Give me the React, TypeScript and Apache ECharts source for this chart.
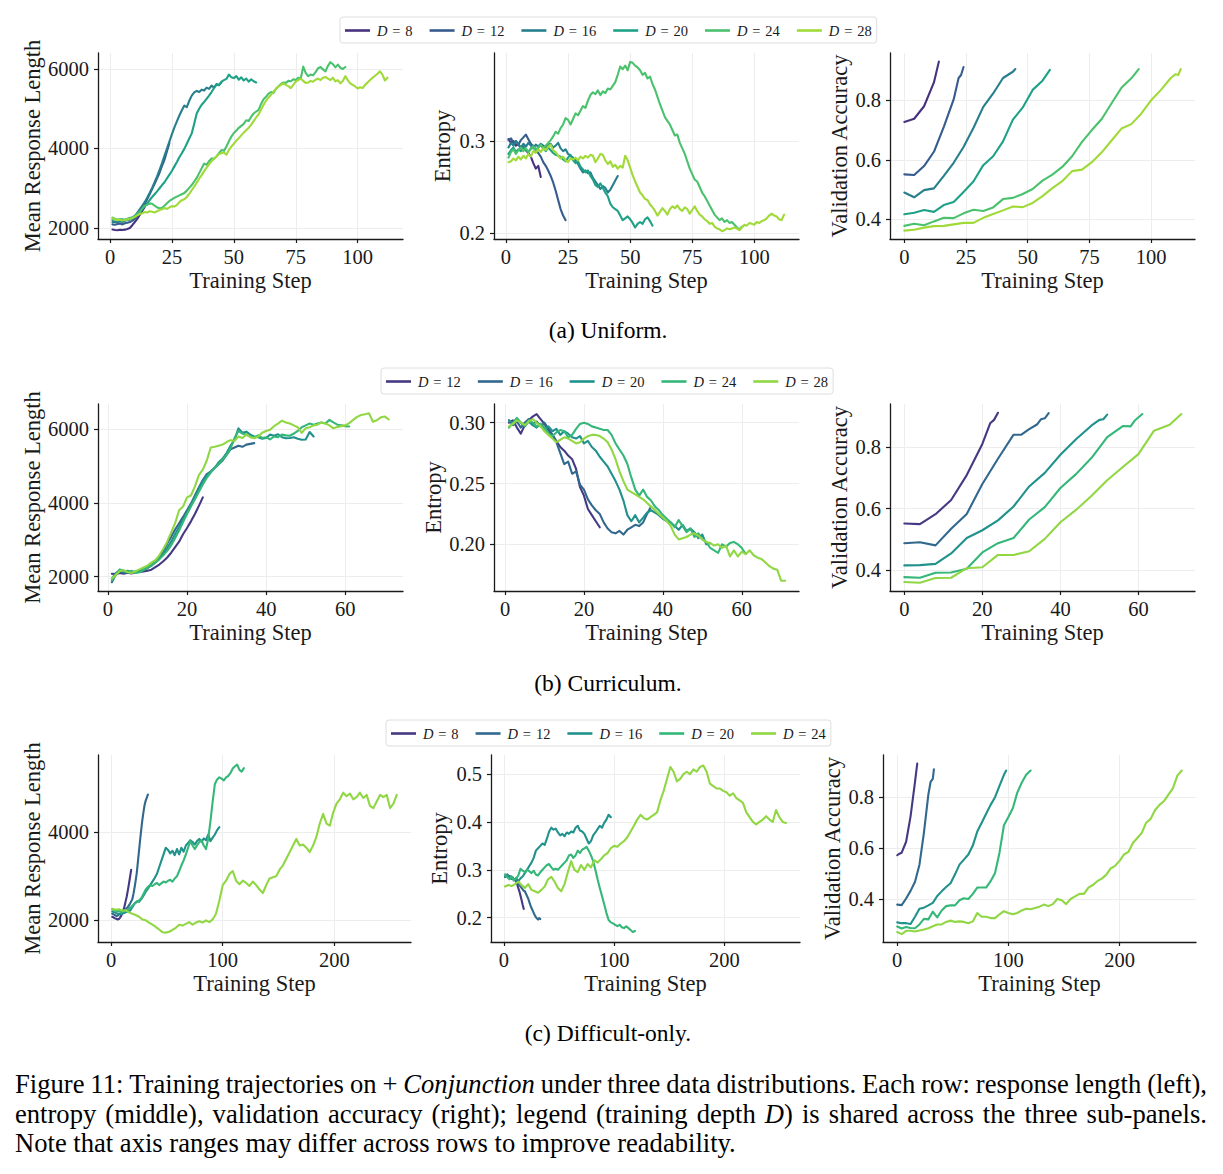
import { useEffect, useRef } from 'react';
import * as echarts from 'echarts';

const SERIF = 'Liberation Serif, Times New Roman, serif';
const INK = '#1a1a1a';

// viridis samples (6 and 5 levels)
const PAL6 = ['#46327e', '#365c8d', '#277f8e', '#1fa187', '#4ac16d', '#a0da39'];
const PAL5 = ['#443983', '#31688e', '#21918c', '#35b779', '#90d743'];

const DEPTHS_A = [8, 12, 16, 20, 24, 28];
const DEPTHS_B = [12, 16, 20, 24, 28];
const DEPTHS_C = [8, 12, 16, 20, 24];

// ---------- (a) Uniform ----------
// mean response length, one value per step starting at step 1
const uniLenD8 = [1960, 1950, 1945, 1955, 1950, 1958, 1975, 2000, 2070, 2150, 2230, 2330, 2430, 2530];
const uniLenD12 = [2090, 2080, 2100, 2110, 2090, 2120, 2130, 2150, 2180, 2230, 2300, 2390, 2480, 2600, 2720, 2850, 2980, 3110, 3250, 3390, 3560, 3720, 3930, 4140];
const uniLenD16 = [2150, 2160, 2140, 2170, 2150, 2180, 2200, 2210, 2240, 2300, 2380, 2470, 2560, 2650, 2760, 2880, 3010, 3150, 3300, 3460, 3630, 3820, 4000, 4180, 4360, 4530, 4680, 4830, 4960, 5080, 5040, 5200, 5330, 5410, 5450, 5420, 5480, 5460, 5530, 5500, 5580, 5530, 5620, 5600, 5660];
const uniLenD20 = [2200, 2230, 2190, 2210, 2220, 2200, 2230, 2250, 2270, 2300, 2360, 2420, 2480, 2550, 2620, 2700, 2780, 2850, 2920, 3000, 3080, 3150, 3250, 3340, 3440, 3550, 3660, 3780, 3880, 3990, 4120, 4250, 4380, 4620, 4880, 5000, 5100, 5170, 5250, 5330, 5420, 5520, 5610, 5590, 5680, 5720, 5750, 5860, 5790, 5770, 5820, 5730, 5790, 5710, 5760, 5680, 5740, 5690, 5660];
const uniLenD24 = [2260, 2230, 2210, 2220, 2190, 2210, 2200, 2230, 2260, 2290, 2340, 2400, 2480, 2560, 2580, 2620, 2610, 2560, 2520, 2490, 2510, 2560, 2620, 2680, 2720, 2760, 2790, 2820, 2850, 2880, 2940, 3010, 3080, 3170, 3260, 3380, 3500, 3620, 3590, 3680, 3750, 3740, 3800, 3880, 3960, 3940, 4050, 4180, 4300, 4390, 4450, 4520, 4570, 4620, 4710, 4690, 4800, 4880, 4930, 4970, 5120, 5240, 5300, 5380, 5420, 5400, 5500, 5560, 5620, 5660, 5650, 5700, 5690, 5740, 5720, 5780, 5750, 6060, 5900, 5820, 5860, 5840, 5920, 6020, 6050, 5990, 5940, 6080, 6170, 6120, 6040, 6110, 6030, 6000, 6050];
const uniLenD28 = [2240, 2220, 2200, 2210, 2190, 2200, 2220, 2230, 2250, 2280, 2320, 2350, 2370, 2400, 2390, 2420, 2410, 2390, 2420, 2450, 2470, 2500, 2480, 2520, 2550, 2540, 2580, 2650, 2700, 2720, 2780, 2860, 2950, 3040, 3140, 3240, 3330, 3430, 3520, 3600, 3680, 3740, 3800, 3860, 3880, 3900, 3840, 3960, 4050, 4120, 4200, 4260, 4330, 4400, 4460, 4520, 4600, 4690, 4780, 4860, 4980, 5100, 5200, 5280, 5350, 5430, 5500, 5560, 5600, 5640, 5600, 5570, 5520, 5600, 5680, 5720, 5760, 5700, 5650, 5660, 5700, 5680, 5730, 5760, 5720, 5780, 5800, 5760, 5720, 5780, 5690, 5720, 5640, 5700, 5820, 5720, 5640, 5600, 5560, 5510, 5540, 5520, 5600, 5660, 5720, 5780, 5830, 5880, 5940, 5860, 5710, 5780];

// entropy, one value per step starting at step 1
const uniEntD8 = [0.302, 0.298, 0.300, 0.295, 0.297, 0.292, 0.294, 0.290, 0.287, 0.283, 0.276, 0.270, 0.273, 0.261];
const uniEntD12 = [0.301, 0.303, 0.298, 0.300, 0.296, 0.301, 0.304, 0.307, 0.302, 0.297, 0.294, 0.290, 0.287, 0.283, 0.277, 0.273, 0.268, 0.262, 0.255, 0.246, 0.236, 0.226, 0.219, 0.214];
const uniEntD16 = [0.293, 0.298, 0.295, 0.300, 0.296, 0.293, 0.297, 0.294, 0.298, 0.295, 0.292, 0.296, 0.294, 0.297, 0.295, 0.293, 0.296, 0.297, 0.293, 0.295, 0.298, 0.292, 0.289, 0.291, 0.286, 0.284, 0.282, 0.279, 0.275, 0.270, 0.266, 0.268, 0.265, 0.266, 0.260, 0.256, 0.252, 0.248, 0.251, 0.249, 0.244, 0.247, 0.252, 0.257, 0.262];
const uniEntD20 = [0.286, 0.290, 0.293, 0.288, 0.291, 0.289, 0.293, 0.291, 0.288, 0.292, 0.295, 0.290, 0.293, 0.296, 0.292, 0.289, 0.293, 0.290, 0.287, 0.285, 0.284, 0.283, 0.280, 0.278, 0.282, 0.285, 0.279, 0.276, 0.278, 0.272, 0.269, 0.266, 0.268, 0.262, 0.258, 0.252, 0.250, 0.254, 0.249, 0.244, 0.240, 0.232, 0.228, 0.226, 0.224, 0.219, 0.214, 0.216, 0.218, 0.215, 0.211, 0.206, 0.210, 0.212, 0.210, 0.215, 0.217, 0.213, 0.208];
const uniEntD24 = [0.282, 0.288, 0.291, 0.286, 0.290, 0.293, 0.289, 0.292, 0.288, 0.291, 0.294, 0.290, 0.293, 0.296, 0.292, 0.295, 0.298, 0.301, 0.305, 0.310, 0.308, 0.314, 0.318, 0.325, 0.323, 0.318, 0.324, 0.330, 0.328, 0.333, 0.338, 0.336, 0.344, 0.350, 0.353, 0.351, 0.355, 0.350, 0.354, 0.352, 0.357, 0.356, 0.360, 0.364, 0.372, 0.381, 0.378, 0.382, 0.377, 0.386, 0.385, 0.382, 0.380, 0.377, 0.372, 0.374, 0.368, 0.370, 0.362, 0.356, 0.348, 0.340, 0.333, 0.326, 0.322, 0.318, 0.312, 0.306, 0.307, 0.298, 0.292, 0.286, 0.278, 0.270, 0.264, 0.258, 0.256, 0.250, 0.244, 0.240, 0.235, 0.230, 0.225, 0.220, 0.217, 0.214, 0.216, 0.212, 0.214, 0.211, 0.212, 0.209, 0.206, 0.204, 0.207];
const uniEntD28 = [0.277, 0.278, 0.281, 0.279, 0.283, 0.280, 0.284, 0.281, 0.286, 0.283, 0.289, 0.287, 0.291, 0.288, 0.292, 0.290, 0.294, 0.296, 0.290, 0.288, 0.284, 0.281, 0.283, 0.279, 0.277, 0.281, 0.280, 0.282, 0.279, 0.283, 0.281, 0.284, 0.282, 0.285, 0.284, 0.277, 0.281, 0.286, 0.285, 0.279, 0.275, 0.278, 0.272, 0.274, 0.270, 0.273, 0.271, 0.284, 0.279, 0.271, 0.263, 0.256, 0.250, 0.244, 0.241, 0.237, 0.236, 0.231, 0.228, 0.224, 0.219, 0.223, 0.227, 0.224, 0.220, 0.226, 0.229, 0.227, 0.230, 0.226, 0.224, 0.228, 0.226, 0.221, 0.225, 0.229, 0.224, 0.220, 0.218, 0.215, 0.213, 0.210, 0.211, 0.207, 0.205, 0.204, 0.202, 0.203, 0.205, 0.204, 0.205, 0.206, 0.205, 0.203, 0.206, 0.209, 0.208, 0.211, 0.210, 0.209, 0.212, 0.211, 0.213, 0.214, 0.216, 0.219, 0.221, 0.219, 0.218, 0.215, 0.214, 0.220];

// validation accuracy, [step, accuracy]
const uniAccD8 = [[0, 0.727], [4, 0.738], [8, 0.780], [12, 0.860], [14, 0.930]];
const uniAccD12 = [[0, 0.551], [4, 0.549], [8, 0.579], [12, 0.627], [16, 0.711], [20, 0.803], [22, 0.875], [23, 0.885], [24, 0.912]];
const uniAccD16 = [[0, 0.490], [4, 0.474], [8, 0.498], [12, 0.504], [16, 0.546], [20, 0.590], [24, 0.643], [28, 0.707], [32, 0.778], [36, 0.823], [40, 0.875], [44, 0.896], [45, 0.905]];
const uniAccD20 = [[0, 0.417], [4, 0.422], [8, 0.431], [12, 0.425], [16, 0.448], [20, 0.458], [24, 0.492], [28, 0.527], [32, 0.582], [36, 0.612], [40, 0.662], [44, 0.735], [48, 0.776], [52, 0.835], [56, 0.866], [59, 0.902]];
const uniAccD24 = [[0, 0.378], [4, 0.385], [8, 0.380], [12, 0.393], [16, 0.405], [20, 0.404], [24, 0.420], [28, 0.432], [32, 0.428], [36, 0.440], [40, 0.468], [44, 0.472], [48, 0.485], [52, 0.502], [56, 0.530], [60, 0.550], [64, 0.576], [68, 0.612], [72, 0.660], [76, 0.700], [80, 0.737], [84, 0.790], [88, 0.842], [92, 0.874], [95, 0.905]];
const uniAccD28 = [[0, 0.362], [4, 0.365], [8, 0.372], [12, 0.377], [16, 0.378], [20, 0.383], [24, 0.388], [28, 0.388], [32, 0.405], [36, 0.418], [40, 0.430], [44, 0.443], [48, 0.441], [52, 0.455], [56, 0.478], [60, 0.505], [64, 0.528], [68, 0.562], [72, 0.567], [76, 0.592], [80, 0.625], [84, 0.665], [88, 0.705], [92, 0.720], [96, 0.755], [100, 0.800], [104, 0.835], [108, 0.875], [110, 0.888], [111, 0.885], [112, 0.905]];

// ---------- (b) Curriculum ----------
const curLenD12 = [2080, 2070, 2100, 2080, 2110, 2090, 2120, 2130, 2140, 2160, 2190, 2260, 2330, 2420, 2520, 2650, 2800, 2950, 3150, 3320, 3500, 3700, 3920, 4150];
const curLenD16 = [1850, 2060, 2150, 2100, 2120, 2110, 2130, 2140, 2180, 2230, 2300, 2400, 2520, 2700, 2900, 3080, 3280, 3450, 3620, 3800, 3980, 4200, 4420, 4620, 4780, 4850, 4950, 5050, 5150, 5300, 5450, 5500, 5550, 5520, 5580, 5600, 5620];
const curLenD20 = [1950, 2100, 2180, 2140, 2160, 2130, 2150, 2160, 2200, 2250, 2320, 2400, 2500, 2620, 2780, 2950, 3150, 3350, 3550, 3750, 3950, 4150, 4380, 4600, 4750, 4850, 4950, 5100, 5200, 5350, 5550, 5700, 6020, 5900, 5930, 5850, 5800, 5780, 5740, 5760, 5850, 5820, 5860, 5780, 5750, 5760, 5780, 5740, 5710, 5720, 5920, 5800];
const curLenD24 = [1900, 2050, 2200, 2150, 2130, 2160, 2100, 2120, 2180, 2240, 2300, 2380, 2470, 2580, 2700, 2850, 3050, 3250, 3480, 3700, 3900, 4100, 4300, 4500, 4680, 4820, 4950, 5050, 5180, 5300, 5480, 5750, 5950, 5880, 5850, 5800, 5780, 5830, 5760, 5780, 5720, 5800, 5780, 5850, 5830, 5820, 5880, 5950, 6050, 6100, 6150, 6120, 6150, 6180, 6150, 6250, 6180, 6120, 6100, 6080, 6070];
const curLenD28 = [1950, 2050, 2150, 2180, 2120, 2100, 2150, 2200, 2250, 2300, 2380, 2450, 2580, 2750, 2950, 3200, 3450, 3800, 3900, 4150, 4200, 4450, 4750, 4900, 5150, 5500, 5520, 5550, 5580, 5650, 5700, 5680, 5800, 5760, 5850, 5780, 5750, 5800, 5900, 5950, 5980, 6080, 6150, 6230, 6180, 6150, 6100, 6050, 5900, 6020, 6050, 6100, 6120, 6180, 6150, 6100, 6020, 6060, 6080, 6100, 6160, 6250, 6330, 6380, 6400, 6430, 6200, 6240, 6320, 6340, 6260];

const curEntD12 = [0.300, 0.302, 0.296, 0.291, 0.298, 0.302, 0.305, 0.307, 0.303, 0.299, 0.294, 0.290, 0.285, 0.280, 0.277, 0.273, 0.270, 0.262, 0.247, 0.240, 0.229, 0.224, 0.219, 0.214];
const curEntD16 = [0.302, 0.298, 0.301, 0.296, 0.300, 0.303, 0.299, 0.301, 0.297, 0.300, 0.295, 0.290, 0.284, 0.275, 0.266, 0.268, 0.258, 0.260, 0.249, 0.245, 0.237, 0.232, 0.228, 0.225, 0.218, 0.213, 0.210, 0.209, 0.211, 0.208, 0.212, 0.214, 0.216, 0.215, 0.218, 0.225, 0.231];
const curEntD20 = [0.302, 0.299, 0.303, 0.300, 0.297, 0.301, 0.298, 0.296, 0.299, 0.295, 0.297, 0.293, 0.295, 0.290, 0.293, 0.291, 0.288, 0.287, 0.289, 0.283, 0.285, 0.280, 0.277, 0.272, 0.268, 0.264, 0.258, 0.252, 0.245, 0.236, 0.224, 0.219, 0.224, 0.218, 0.222, 0.226, 0.228, 0.226, 0.224, 0.221, 0.219, 0.218, 0.215, 0.212, 0.216, 0.211, 0.213, 0.210, 0.205, 0.208, 0.200, 0.201];
const curEntD24 = [0.296, 0.300, 0.304, 0.300, 0.298, 0.302, 0.300, 0.297, 0.299, 0.296, 0.291, 0.289, 0.292, 0.294, 0.293, 0.288, 0.290, 0.295, 0.299, 0.300, 0.299, 0.297, 0.296, 0.295, 0.294, 0.294, 0.290, 0.283, 0.278, 0.273, 0.266, 0.255, 0.245, 0.240, 0.245, 0.239, 0.236, 0.231, 0.228, 0.224, 0.221, 0.218, 0.214, 0.220, 0.215, 0.210, 0.213, 0.206, 0.209, 0.204, 0.202, 0.197, 0.195, 0.193, 0.200, 0.198, 0.201, 0.202, 0.200, 0.197, 0.192];
const curEntD28 = [0.297, 0.299, 0.302, 0.300, 0.298, 0.301, 0.303, 0.300, 0.297, 0.293, 0.290, 0.287, 0.284, 0.286, 0.288, 0.287, 0.285, 0.283, 0.284, 0.287, 0.289, 0.290, 0.290, 0.289, 0.287, 0.284, 0.278, 0.270, 0.260, 0.252, 0.245, 0.243, 0.241, 0.239, 0.237, 0.234, 0.231, 0.228, 0.225, 0.222, 0.219, 0.215, 0.208, 0.204, 0.205, 0.206, 0.208, 0.209, 0.207, 0.204, 0.202, 0.201, 0.199, 0.200, 0.197, 0.199, 0.190, 0.195, 0.190, 0.194, 0.192, 0.195, 0.191, 0.189, 0.188, 0.185, 0.182, 0.180, 0.179, 0.170, 0.170];

const curAccD12 = [[0, 0.552], [4, 0.550], [8, 0.582], [12, 0.628], [16, 0.709], [20, 0.810], [22, 0.877], [23, 0.888], [24, 0.911]];
const curAccD16 = [[0, 0.488], [4, 0.491], [8, 0.481], [12, 0.535], [16, 0.583], [20, 0.680], [24, 0.762], [28, 0.840], [30, 0.840], [32, 0.858], [34, 0.873], [35, 0.890], [36, 0.893], [37, 0.910]];
const curAccD20 = [[0, 0.416], [4, 0.417], [8, 0.421], [12, 0.455], [16, 0.505], [20, 0.530], [24, 0.562], [28, 0.607], [32, 0.672], [36, 0.716], [40, 0.775], [44, 0.825], [48, 0.870], [50, 0.888], [51, 0.890], [52, 0.905]];
const curAccD24 = [[0, 0.378], [4, 0.376], [8, 0.392], [12, 0.393], [16, 0.405], [20, 0.458], [24, 0.488], [28, 0.505], [32, 0.565], [36, 0.605], [40, 0.667], [44, 0.712], [48, 0.765], [52, 0.832], [56, 0.868], [58, 0.867], [59, 0.885], [61, 0.907]];
const curAccD28 = [[0, 0.362], [4, 0.360], [8, 0.375], [12, 0.376], [16, 0.407], [20, 0.410], [24, 0.450], [28, 0.450], [32, 0.462], [36, 0.502], [40, 0.556], [44, 0.596], [48, 0.642], [52, 0.692], [56, 0.735], [60, 0.777], [64, 0.853], [68, 0.872], [71, 0.907]];

// ---------- (c) Difficult-only ----------
// D=8 and D=12 logged every step; D=16/D=20 every 2nd step; D=24 every 3rd step
const difLenD8 = [2080, 2070, 2050, 2040, 2030, 2020, 2030, 2060, 2100, 2160, 2230, 2320, 2430, 2540, 2680, 2830, 2990, 3150];
const difLenD12 = [2150, 2140, 2120, 2110, 2100, 2110, 2130, 2150, 2170, 2190, 2210, 2230, 2250, 2280, 2300, 2340, 2380, 2430, 2480, 2600, 2740, 2900, 3080, 3330, 3580, 3830, 4060, 4280, 4460, 4620, 4720, 4790, 4860];
const difLenD16 = [2200, 2180, 2160, 2150, 2140, 2160, 2180, 2200, 2220, 2300, 2380, 2430, 2420, 2480, 2560, 2650, 2720, 2800, 2880, 2960, 3050, 3200, 3350, 3500, 3650, 3600, 3520, 3580, 3480, 3620, 3500, 3650, 3560, 3700, 3760, 3820, 3780, 3720, 3800, 3850, 3780, 3860, 3820, 3950, 3800, 3880, 3950, 4050, 4120];
const difLenD20 = [2250, 2230, 2200, 2220, 2180, 2200, 2220, 2250, 2280, 2330, 2380, 2420, 2450, 2500, 2600, 2700, 2760, 2800, 2780, 2820, 2850, 2800, 2840, 2880, 2860, 2900, 2920, 2880, 2950, 3000, 3120, 3250, 3360, 3500, 3650, 3800, 3700, 3620, 3700, 3780, 3820, 3700, 3620, 3850, 4250, 4700, 5100, 5200, 5250, 5220, 5180, 5250, 5280, 5350, 5450, 5500, 5540, 5420, 5380, 5460];
const difLenD24 = [2260, 2240, 2250, 2220, 2230, 2180, 2150, 2120, 2080, 2020, 2000, 1950, 1900, 1850, 1790, 1730, 1720, 1740, 1780, 1830, 1900, 1880, 1920, 1960, 1900, 1950, 1980, 1950, 2000, 1960, 2020, 2150, 2450, 2800, 2900, 3050, 3120, 2900, 2820, 2900, 2850, 2780, 2880, 2800, 2700, 2620, 2800, 2950, 2980, 3000, 3150, 3250, 3400, 3550, 3700, 3850, 3700, 3720, 3650, 3550, 3700, 3900, 4200, 4420, 4200, 4150, 4450, 4650, 4750, 4900, 4820, 4880, 4750, 4800, 4900, 4780, 4850, 4600, 4550, 4700, 4850, 4800, 4850, 4550, 4650, 4850];

const difEntD8 = [0.285, 0.288, 0.290, 0.287, 0.284, 0.286, 0.283, 0.281, 0.280, 0.278, 0.276, 0.270, 0.262, 0.255, 0.246, 0.237, 0.227, 0.218];
const difEntD12 = [0.290, 0.288, 0.286, 0.284, 0.287, 0.283, 0.281, 0.284, 0.279, 0.280, 0.277, 0.274, 0.271, 0.268, 0.265, 0.262, 0.259, 0.256, 0.255, 0.250, 0.245, 0.240, 0.233, 0.226, 0.220, 0.215, 0.210, 0.205, 0.201, 0.198, 0.196, 0.199, 0.197];
const difEntD16 = [0.285, 0.290, 0.282, 0.285, 0.278, 0.283, 0.276, 0.282, 0.286, 0.293, 0.300, 0.308, 0.315, 0.325, 0.340, 0.345, 0.350, 0.355, 0.352, 0.365, 0.380, 0.388, 0.384, 0.386, 0.378, 0.372, 0.375, 0.370, 0.378, 0.375, 0.380, 0.378, 0.388, 0.392, 0.382, 0.380, 0.375, 0.365, 0.355, 0.360, 0.372, 0.378, 0.385, 0.392, 0.388, 0.398, 0.405, 0.415, 0.410];
const difEntD20 = [0.290, 0.285, 0.280, 0.286, 0.278, 0.282, 0.288, 0.302, 0.298, 0.295, 0.300, 0.297, 0.293, 0.298, 0.290, 0.288, 0.295, 0.300, 0.305, 0.310, 0.312, 0.305, 0.300, 0.302, 0.300, 0.305, 0.310, 0.315, 0.320, 0.330, 0.332, 0.325, 0.330, 0.340, 0.335, 0.342, 0.345, 0.348, 0.340, 0.330, 0.318, 0.300, 0.280, 0.262, 0.245, 0.228, 0.210, 0.195, 0.190, 0.188, 0.185, 0.182, 0.185, 0.180, 0.178, 0.182, 0.178, 0.174, 0.170, 0.172];
const difEntD24 = [0.265, 0.268, 0.266, 0.270, 0.275, 0.268, 0.262, 0.270, 0.258, 0.255, 0.252, 0.258, 0.265, 0.280, 0.285, 0.275, 0.262, 0.255, 0.270, 0.295, 0.318, 0.300, 0.295, 0.310, 0.300, 0.312, 0.305, 0.320, 0.315, 0.322, 0.330, 0.335, 0.345, 0.350, 0.348, 0.355, 0.360, 0.368, 0.380, 0.392, 0.405, 0.415, 0.408, 0.405, 0.410, 0.415, 0.420, 0.445, 0.465, 0.490, 0.515, 0.505, 0.485, 0.490, 0.500, 0.505, 0.500, 0.510, 0.505, 0.515, 0.518, 0.505, 0.480, 0.475, 0.470, 0.470, 0.465, 0.462, 0.455, 0.460, 0.450, 0.445, 0.440, 0.420, 0.410, 0.400, 0.395, 0.400, 0.405, 0.412, 0.405, 0.400, 0.425, 0.410, 0.400, 0.398];

const difAccD8 = [[0, 0.572], [2, 0.578], [4, 0.582], [8, 0.625], [12, 0.725], [16, 0.860], [18, 0.932]];
const difAccD12 = [[0, 0.378], [4, 0.376], [8, 0.402], [12, 0.432], [16, 0.468], [20, 0.535], [24, 0.660], [28, 0.810], [30, 0.860], [32, 0.872], [33, 0.910]];
const difAccD16 = [[0, 0.308], [4, 0.305], [8, 0.305], [12, 0.302], [16, 0.330], [20, 0.362], [24, 0.366], [28, 0.375], [32, 0.385], [36, 0.412], [40, 0.430], [44, 0.447], [48, 0.462], [52, 0.497], [56, 0.535], [60, 0.555], [64, 0.575], [68, 0.610], [72, 0.665], [76, 0.700], [80, 0.735], [84, 0.770], [88, 0.800], [92, 0.845], [96, 0.888], [98, 0.905]];
const difAccD20 = [[0, 0.292], [4, 0.284], [8, 0.290], [12, 0.286], [16, 0.285], [20, 0.300], [24, 0.322], [28, 0.320], [32, 0.350], [36, 0.328], [40, 0.355], [44, 0.372], [48, 0.375], [52, 0.375], [56, 0.395], [60, 0.403], [64, 0.400], [68, 0.420], [72, 0.445], [76, 0.445], [80, 0.445], [84, 0.470], [88, 0.502], [92, 0.582], [96, 0.690], [100, 0.722], [104, 0.757], [108, 0.818], [112, 0.857], [116, 0.888], [120, 0.905]];
const difAccD24 = [[0, 0.270], [4, 0.262], [8, 0.275], [12, 0.275], [16, 0.272], [20, 0.276], [24, 0.280], [28, 0.285], [32, 0.293], [36, 0.300], [40, 0.300], [44, 0.310], [48, 0.315], [52, 0.310], [56, 0.312], [60, 0.310], [64, 0.305], [68, 0.312], [72, 0.345], [76, 0.330], [80, 0.330], [84, 0.325], [88, 0.325], [92, 0.340], [96, 0.352], [100, 0.345], [104, 0.340], [108, 0.345], [112, 0.355], [116, 0.362], [120, 0.360], [124, 0.365], [128, 0.370], [132, 0.378], [136, 0.372], [140, 0.380], [144, 0.400], [148, 0.395], [152, 0.380], [156, 0.400], [160, 0.410], [164, 0.420], [168, 0.420], [172, 0.445], [176, 0.455], [180, 0.470], [184, 0.480], [188, 0.495], [192, 0.520], [196, 0.530], [200, 0.550], [204, 0.575], [208, 0.585], [212, 0.620], [216, 0.640], [220, 0.660], [224, 0.700], [228, 0.715], [232, 0.750], [236, 0.770], [240, 0.785], [244, 0.810], [248, 0.835], [252, 0.885], [256, 0.905]];

// ---------- tick labels ----------
const TICKS_X_UNI = [0, 25, 50, 75, 100];
const TICKS_X_CUR = [0, 20, 40, 60];
const TICKS_X_DIF = [0, 100, 200];
const TICKS_LEN = [2000, 4000, 6000];
const TICKS_LEN_DIF = [2000, 4000];
const TICKS_ENT_UNI = [0.2, 0.3];
const TICKS_ENT_CUR = [0.2, 0.25, 0.3];
const TICKS_ENT_DIF = [0.2, 0.3, 0.4, 0.5];
const TICKS_ACC = [0.4, 0.6, 0.8];

const CAPTION_LINES = [
  ['Figure', '11:', 'Training', 'trajectories', 'on', '+', '{i|Conjunction}', 'under', 'three', 'data', 'distributions.', 'Each', 'row:', 'response', 'length', '(left),'],
  ['entropy', '(middle),', 'validation', 'accuracy', '(right);', 'legend', '(training', 'depth', '{i|D})', 'is', 'shared', 'across', 'the', 'three', 'sub-panels.'],
  ['Note', 'that', 'axis', 'ranges', 'may', 'differ', 'across', 'rows', 'to', 'improve', 'readability.'],
];

// turn a run of regularly logged values into [step, value] pairs
const steps = (start: number, stride: number, vals: number[]) => vals.map((v, i) => [start + i * stride, v]);

type Panel = {
  grid: { left: number; top: number; width: number; height: number };
  x: [number, number];
  xt: number[];
  y: [number, number];
  yt: number[];
  fmt?: (v: number) => string;
  yName: string;
  yGap: number;
  lines: number[][][];
};

type Row = {
  id: string;
  colors: string[];
  depths: number[];
  legend: { left: number; top: number };
  caption: string;
  captionY: number;
  panels: Panel[];
};

const ROWS: Row[] = [
  {
    id: 'a', colors: PAL6, depths: DEPTHS_A, legend: { left: 340, top: 17 }, caption: '(a) Uniform.', captionY: 330,
    panels: [
      { grid: { left: 98, top: 53, width: 305, height: 186 }, x: [-4.85, 118.3], xt: TICKS_X_UNI, y: [1723, 6402], yt: TICKS_LEN, yName: 'Mean Response Length', yGap: 54,
        lines: [uniLenD8, uniLenD12, uniLenD16, uniLenD20, uniLenD24, uniLenD28].map((v) => steps(1, 1, v)) },
      { grid: { left: 494, top: 53, width: 305, height: 186 }, x: [-4.83, 118.0], xt: TICKS_X_UNI, y: [0.1935, 0.3957], yt: TICKS_ENT_UNI, yName: 'Entropy', yGap: 40,
        lines: [uniEntD8, uniEntD12, uniEntD16, uniEntD20, uniEntD24, uniEntD28].map((v) => steps(1, 1, v)) },
      { grid: { left: 890, top: 53, width: 305, height: 186 }, x: [-5.8, 117.8], xt: TICKS_X_UNI, y: [0.3338, 0.959], yt: TICKS_ACC, yName: 'Validation Accuracy', yGap: 37,
        lines: [uniAccD8, uniAccD12, uniAccD16, uniAccD20, uniAccD24, uniAccD28] },
    ],
  },
  {
    id: 'b', colors: PAL5, depths: DEPTHS_B, legend: { left: 381, top: 368 }, caption: '(b) Curriculum.', captionY: 683,
    panels: [
      { grid: { left: 98, top: 404, width: 305, height: 187 }, x: [-2.5, 74.6], xt: TICKS_X_CUR, y: [1613, 6680], yt: TICKS_LEN, yName: 'Mean Response Length', yGap: 54,
        lines: [curLenD12, curLenD16, curLenD20, curLenD24, curLenD28].map((v) => steps(1, 1, v)) },
      { grid: { left: 494, top: 404, width: 305, height: 187 }, x: [-2.8, 74.5], xt: TICKS_X_CUR, y: [0.1616, 0.3154], yt: TICKS_ENT_CUR, fmt: (v) => v.toFixed(2), yName: 'Entropy', yGap: 48,
        lines: [curEntD12, curEntD16, curEntD20, curEntD24, curEntD28].map((v) => steps(1, 1, v)) },
      { grid: { left: 890, top: 404, width: 305, height: 187 }, x: [-3.67, 74.5], xt: TICKS_X_CUR, y: [0.333, 0.9395], yt: TICKS_ACC, yName: 'Validation Accuracy', yGap: 37,
        lines: [curAccD12, curAccD16, curAccD20, curAccD24, curAccD28] },
    ],
  },
  {
    id: 'c', colors: PAL5, depths: DEPTHS_C, legend: { left: 386, top: 720 }, caption: '(c) Difficult-only.', captionY: 1033,
    panels: [
      { grid: { left: 98, top: 755, width: 313, height: 187 }, x: [-11.75, 268.75], xt: TICKS_X_DIF, y: [1507, 5757], yt: TICKS_LEN_DIF, yName: 'Mean Response Length', yGap: 54,
        lines: [steps(1, 1, difLenD8), steps(1, 1, difLenD12), steps(1, 2, difLenD16), steps(1, 2, difLenD20), steps(1, 3, difLenD24)] },
      { grid: { left: 491, top: 755, width: 309, height: 187 }, x: [-11.75, 268.75], xt: TICKS_X_DIF, y: [0.149, 0.54], yt: TICKS_ENT_DIF, yName: 'Entropy', yGap: 40,
        lines: [steps(1, 1, difEntD8), steps(1, 1, difEntD12), steps(1, 2, difEntD16), steps(1, 2, difEntD20), steps(1, 3, difEntD24)] },
      { grid: { left: 883, top: 755, width: 313, height: 187 }, x: [-12.8, 268.8], xt: TICKS_X_DIF, y: [0.231, 0.966], yt: TICKS_ACC, yName: 'Validation Accuracy', yGap: 37,
        lines: [difAccD8, difAccD12, difAccD16, difAccD20, difAccD24] },
    ],
  },
];

const axisText = { fontFamily: SERIF, color: INK };

// figure caption: first two lines are justified between the margins, the last is set ragged
function buildCaption(): any[] {
  const size = 26.6;
  const ctx = document.createElement('canvas').getContext('2d') as CanvasRenderingContext2D;
  const width = (tok: string) => {
    let w = 0;
    const re = /\{i\|([^}]*)\}|([^{]+)/g;
    let m: RegExpExecArray | null;
    while ((m = re.exec(tok))) {
      const italic = m[1] !== undefined;
      ctx.font = `${italic ? 'italic ' : ''}${size}px "Liberation Serif"`;
      w += ctx.measureText(italic ? m[1] : m[2]).width;
    }
    return w;
  };
  ctx.font = `${size}px "Liberation Serif"`;
  const space = ctx.measureText(' ').width;
  const left = 15;
  const right = 1207;
  const ys = [1084, 1114, 1143];
  const out: any[] = [];
  CAPTION_LINES.forEach((words, li) => {
    const ws = words.map(width);
    const total = ws.reduce((a, b) => a + b, 0);
    const justify = li < CAPTION_LINES.length - 1;
    const gap = justify ? Math.max(3, (right - left - total) / (words.length - 1)) : space;
    let x = left;
    words.forEach((w, wi) => {
      out.push({
        type: 'text', x, y: ys[li], silent: true,
        style: {
          text: w, fill: '#000', fontSize: size, fontFamily: SERIF,
          textVerticalAlign: 'middle', verticalAlign: 'middle', textAlign: 'left', align: 'left',
          rich: { i: { fontStyle: 'italic', fontSize: size, fontFamily: SERIF, fill: '#000' } },
        },
      });
      x += ws[wi] + gap;
    });
  });
  return out;
}

function buildOption(): any {
  const grid: any[] = [];
  const xAxis: any[] = [];
  const yAxis: any[] = [];
  const series: any[] = [];
  const legend: any[] = [];
  const graphic: any[] = [];

  ROWS.forEach((row) => {
    const names = row.depths.map((d) => `${row.id}${d}`);
    row.panels.forEach((p) => {
      const idx = grid.length;
      grid.push({ ...p.grid, containLabel: false, outerBoundsMode: 'none' });
      xAxis.push({
        type: 'value', gridIndex: idx, min: p.x[0], max: p.x[1],
        axisLine: { show: true, onZero: false, lineStyle: { color: INK, width: 1.3 } },
        axisTick: { show: true, inside: false, length: 4, customValues: p.xt, lineStyle: { color: INK, width: 1.2 } },
        axisLabel: { show: true, customValues: p.xt, margin: 7, fontSize: 20.5, ...axisText, formatter: (v: number) => String(v) },
        splitLine: { show: true, lineStyle: { color: '#ededed', width: 1 } },
        name: 'Training Step', nameLocation: 'middle', nameGap: 30,
        nameTextStyle: { fontSize: 22.5, ...axisText },
      });
      yAxis.push({
        type: 'value', gridIndex: idx, min: p.y[0], max: p.y[1],
        axisLine: { show: true, onZero: false, lineStyle: { color: INK, width: 1.3 } },
        axisTick: { show: true, inside: false, length: 4, customValues: p.yt, lineStyle: { color: INK, width: 1.2 } },
        axisLabel: { show: true, customValues: p.yt, margin: 9, fontSize: 20.5, ...axisText, formatter: p.fmt ? p.fmt : (v: number) => String(v) },
        splitLine: { show: true, lineStyle: { color: '#ededed', width: 1 } },
        name: p.yName, nameLocation: 'middle', nameGap: p.yGap,
        nameTextStyle: { fontSize: 22.5, ...axisText },
      });
      p.lines.forEach((data, si) => {
        const color = row.colors[si];
        series.push({
          type: 'line', name: names[si], xAxisIndex: idx, yAxisIndex: idx, data,
          showSymbol: false, symbol: 'none', silent: true, color,
          itemStyle: { color },
          lineStyle: { color, width: 2.1, cap: 'round', join: 'round' },
          emphasis: { disabled: true },
        });
      });
    });

    legend.push({
      data: names, left: row.legend.left, top: row.legend.top, orient: 'horizontal',
      icon: 'rect', itemWidth: 25, itemHeight: 2.6, itemGap: 17,
      padding: [6, 5, 5, 5], backgroundColor: '#ffffff', borderColor: '#dedede', borderWidth: 1, borderRadius: 3,
      selectedMode: false,
      formatter: (name: string) => `{i|D}\u2004=\u2004${name.slice(1)}`,
      textStyle: {
        fontSize: 14.5, fontFamily: SERIF, color: INK, padding: [0, 0, 0, 2],
        rich: { i: { fontSize: 14.5, fontFamily: SERIF, fontStyle: 'italic', color: INK } },
      },
    });

    graphic.push({
      type: 'text', x: 608, y: row.captionY, silent: true,
      style: {
        text: row.caption, fill: '#000', fontSize: 23.5, fontFamily: SERIF,
        textAlign: 'center', align: 'center', textVerticalAlign: 'middle', verticalAlign: 'middle',
      },
    });
  });

  graphic.push(...buildCaption());

  return { animation: false, backgroundColor: '#ffffff', grid, xAxis, yAxis, series, legend, graphic, tooltip: { show: false } };
}

export default function App() {
  const ref = useRef<HTMLDivElement>(null);
  useEffect(() => {
    if (!ref.current) return;
    const chart = echarts.init(ref.current, null, { renderer: 'svg' });
    chart.setOption(buildOption());
    return () => chart.dispose();
  }, []);
  return <div ref={ref} style={{ position: 'absolute', left: 0, top: 0, width: 1223, height: 1174, background: '#fff' }} />;
}
